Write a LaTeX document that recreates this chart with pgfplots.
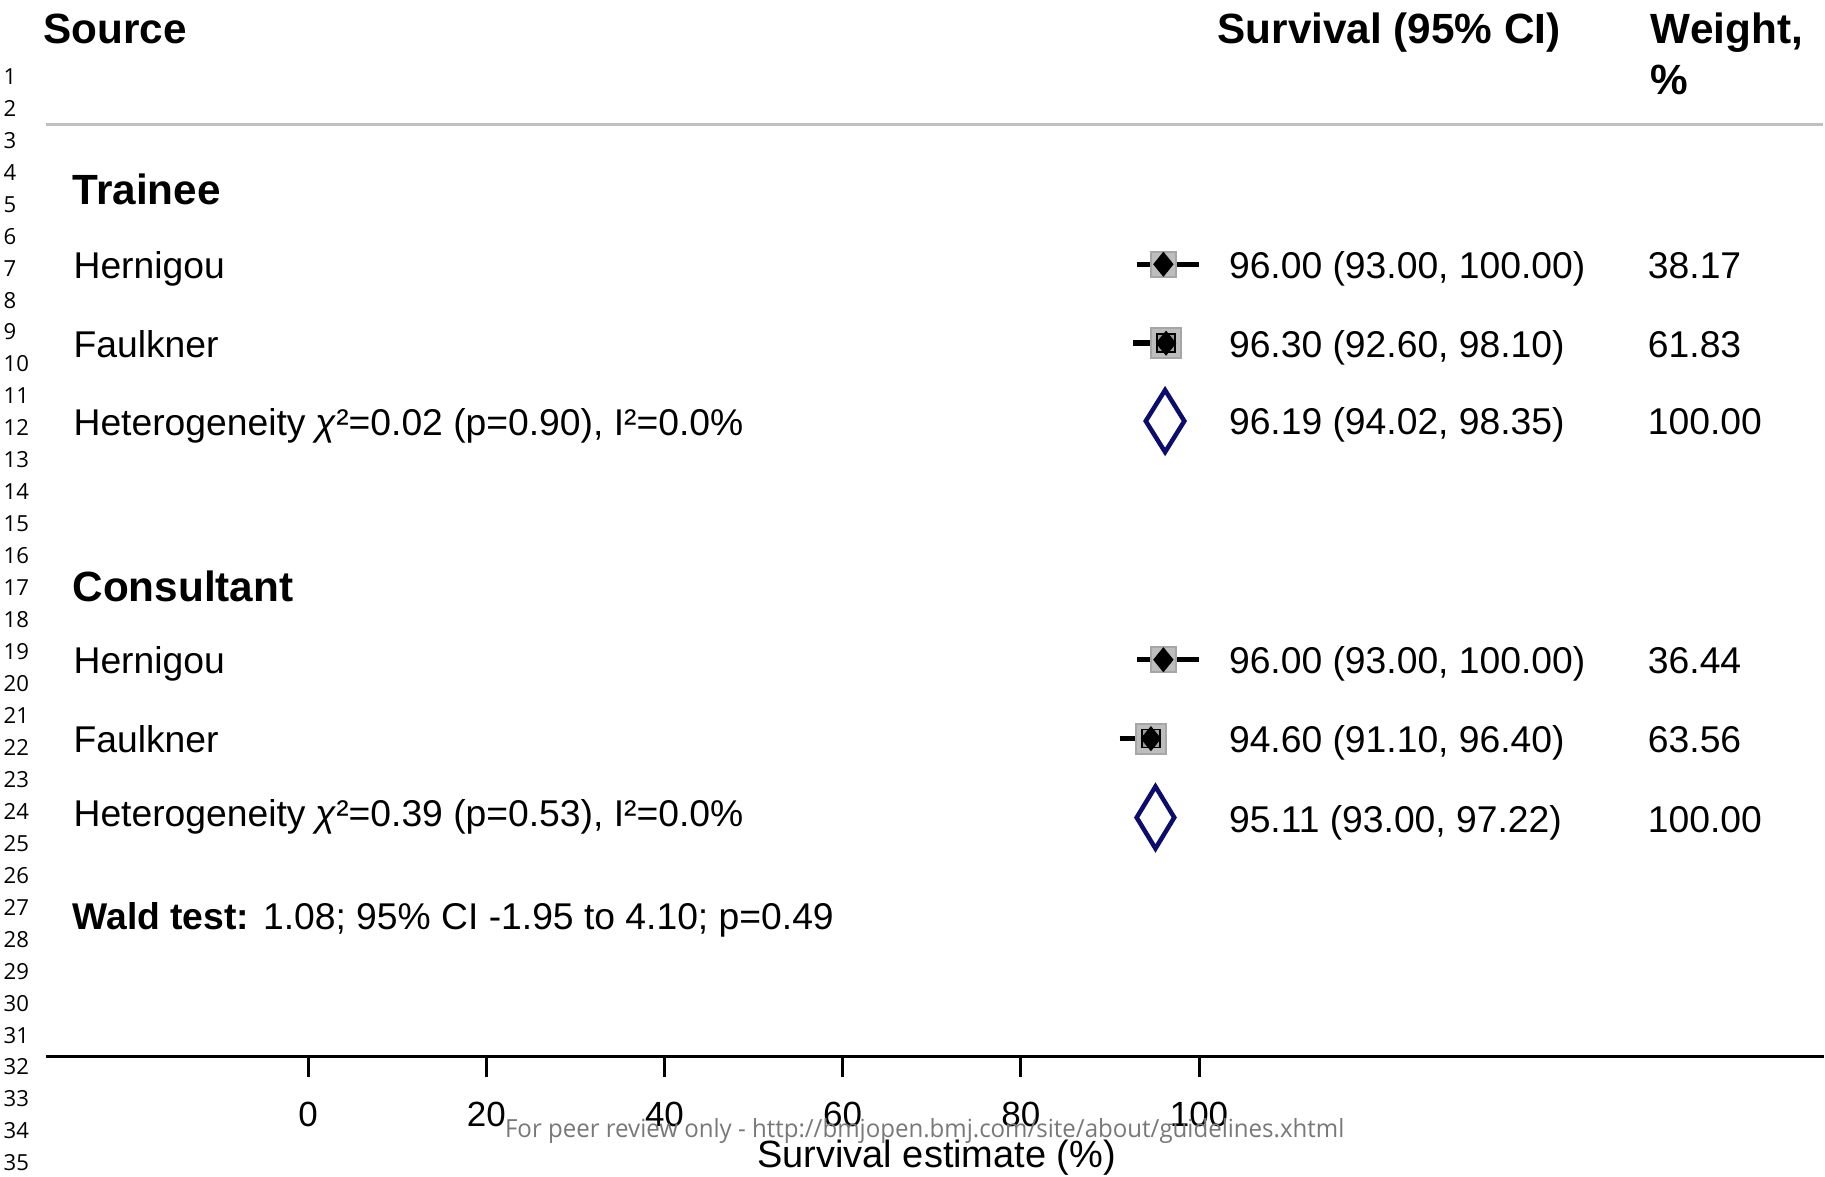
\documentclass[border=0pt]{standalone}
\usepackage{pgfplots}
\pgfplotsset{compat=1.18}
\usepackage{graphicx}
\usepackage{fontspec}
\setmainfont{Liberation Sans}
\newfontfamily\lnfont{Open Sans}
\definecolor{navy}{HTML}{0C0C6C}
\definecolor{sqlight}{HTML}{BDBDBD}
\definecolor{sqedge}{HTML}{A6A6A6}
\definecolor{sqdark}{HTML}{9C9C9C}
\definecolor{rulegray}{HTML}{C0C0C0}
\definecolor{wmgray}{HTML}{787878}
\newcommand{\bodyf}{\fontsize{10.61}{12.7}\selectfont}
\newcommand{\headf}{\fontsize{12.04}{14.4}\selectfont\bfseries}
\begin{document}
\begin{tikzpicture}
\begin{axis}[
  at={(0.465cm,-10.57cm)}, anchor=south west,
  x=0.08916cm, y=0.01cm,
  xmin=-29.374, xmax=170.10, ymin=121, ymax=1178,
  enlargelimits=false, clip=false,
  hide y axis, axis x line=bottom,
  x axis line style={-, line width=0.03cm, black},
  xtick={0,20,40,60,80,100},
  major tick length=0.21cm, tick align=outside,
  xtick style={line width=0.03cm, black},
  /pgf/number format/assume math mode=true,
  xticklabel style={font=\fontsize{9.96}{12}\selectfont, anchor=base, inner sep=0pt, yshift=-0.495cm},
]
% ---- Trainee ----
% Hernigou 96.00 (93.00, 100.00), weight 38.17
\addplot[only marks, mark=square*, mark size=0.125cm, mark options={fill=sqlight, draw=sqedge, line width=0.02cm}] coordinates {(96.00,914)};
\addplot[black, line width=0.055cm] coordinates {(93.00,914) (100.00,914)};
\addplot[only marks, mark=diamond*, mark size=0.115cm, mark options={xscale=1.08}, black] coordinates {(96.00,914)};
% Faulkner 96.30 (92.60, 98.10), weight 61.83
\addplot[only marks, mark=square*, mark size=0.15cm, mark options={fill=sqlight, draw=sqedge, line width=0.02cm}] coordinates {(96.30,835)};
\addplot[only marks, mark=square*, mark size=0.09cm, mark options={fill=sqdark, draw=none}] coordinates {(96.30,835)};
\addplot[black, line width=0.055cm] coordinates {(92.60,835) (98.10,835)};
\addplot[only marks, mark=diamond*, mark size=0.115cm, mark options={xscale=1.08}, black] coordinates {(96.30,835)};
% pooled 96.19 (94.02, 98.35)
\addplot[navy, line width=0.045cm] coordinates {(94.02,757) (96.19,788) (98.35,757) (96.19,726)} -- cycle;
% ---- Consultant ----
% Hernigou 96.00 (93.00, 100.00), weight 36.44
\addplot[only marks, mark=square*, mark size=0.125cm, mark options={fill=sqlight, draw=sqedge, line width=0.02cm}] coordinates {(96.00,518)};
\addplot[black, line width=0.055cm] coordinates {(93.00,518) (100.00,518)};
\addplot[only marks, mark=diamond*, mark size=0.115cm, mark options={xscale=1.08}, black] coordinates {(96.00,518)};
% Faulkner 94.60 (91.10, 96.40), weight 63.56
\addplot[only marks, mark=square*, mark size=0.15cm, mark options={fill=sqlight, draw=sqedge, line width=0.02cm}] coordinates {(94.60,439)};
\addplot[only marks, mark=square*, mark size=0.09cm, mark options={fill=sqdark, draw=none}] coordinates {(94.60,439)};
\addplot[black, line width=0.055cm] coordinates {(91.10,439) (96.40,439)};
\addplot[only marks, mark=diamond*, mark size=0.115cm, mark options={xscale=1.08}, black] coordinates {(94.60,439)};
% pooled 95.11 (93.00, 97.22)
\addplot[navy, line width=0.045cm] coordinates {(93.00,360) (95.11,391) (97.22,360) (95.11,329)} -- cycle;
\end{axis}
\begin{scope}[x=0.01cm, y=-0.01cm]
\path (0,0) rectangle (1825,1178);
\draw[rulegray, line width=0.033cm] (46.5,125) -- (1825,125);
\foreach \n in {1,...,35} {
  \node[anchor=west, inner sep=0pt, font=\lnfont\fontsize{6.3}{7.5}\selectfont] at (3,{76.5+32*(\n-1)}) {\n};
}
\begin{scope}[every node/.style={anchor=base west, inner sep=0pt}]
\node[font=\headf] at (43,44) {Source};
\node[font=\headf] at (1218.5,44) {Survival (95\% CI)};
\node[font=\headf] at (1652.5,44) {Weight,};
\node[font=\headf] at (1652.5,95) {\%};
\node[font=\headf] at (72,205) {Trainee};
\node[font=\bodyf] at (73,278.5) {Hernigou};
\node[font=\bodyf] at (73,357.5) {Faulkner};
\node[font=\bodyf] at (73,436) {Heterogeneity {\itshape χ}²=0.02 (p=0.90), I²=0.0\%};
\node[font=\bodyf] at (1230,278.5) {96.00 (93.00, 100.00)};
\node[font=\bodyf] at (1230,357.5) {96.30 (92.60, 98.10)};
\node[font=\bodyf] at (1230,435) {96.19 (94.02, 98.35)};
\node[font=\bodyf] at (1649.5,278.5) {38.17};
\node[font=\bodyf] at (1649.5,357.5) {61.83};
\node[font=\bodyf] at (1649.5,435) {100.00};
\node[font=\headf] at (72,602) {Consultant};
\node[font=\bodyf] at (73,674.5) {Hernigou};
\node[font=\bodyf] at (73,754) {Faulkner};
\node[font=\bodyf] at (73,828) {Heterogeneity {\itshape χ}²=0.39 (p=0.53), I²=0.0\%};
\node[font=\bodyf] at (1230,674.5) {96.00 (93.00, 100.00)};
\node[font=\bodyf] at (1230,754) {94.60 (91.10, 96.40)};
\node[font=\bodyf] at (1230,834) {95.11 (93.00, 97.22)};
\node[font=\bodyf] at (1649.5,674.5) {36.44};
\node[font=\bodyf] at (1649.5,754) {63.56};
\node[font=\bodyf] at (1649.5,834) {100.00};
\node[font=\bodyf] at (72,930.5) {\textbf{Wald test:} 1.08; 95\% CI -1.95 to 4.10; p=0.49};
\end{scope}
\node[anchor=base, inner sep=0pt, font=\fontsize{10.81}{13}\selectfont] at (938,1169) {Survival estimate (\%)};
\node[anchor=base, inner sep=0pt, text=wmgray] at (926,1139) {\resizebox{8.4cm}{0.19cm}{\lnfont For peer review only - http://bmjopen.bmj.com/site/about/guidelines.xhtml}};
\end{scope}
\end{tikzpicture}
\end{document}
